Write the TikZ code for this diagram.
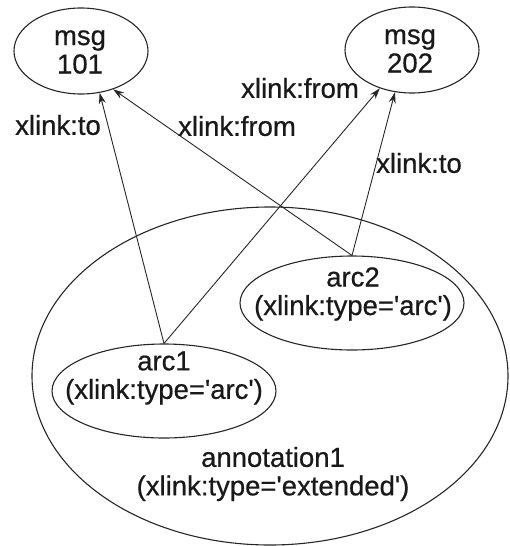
\documentclass[tikz,border=0pt]{standalone}
\usepackage{fontspec}
\setmainfont{Liberation Sans}[BoldFont=Liberation Sans,BoldFeatures={FakeBold=0.6}]
\usetikzlibrary{shapes.geometric,arrows.meta}
\newcommand{\sq}{\textquotesingle}
\begin{document}
\begin{tikzpicture}[x=1pt,y=-1pt,
  oval/.style={draw=black!85,line width=1.1pt,ellipse,inner sep=0pt},
  txt/.style={align=center,font=\fontsize{27.5}{28.5}\selectfont\bfseries,text=black!90,inner sep=0pt},
  lnk/.style={draw=black!85,line width=0.9pt,-{Stealth[length=11pt,width=7pt]}}]
\useasboundingbox (0,0) rectangle (509,546);
% ellipses
\node[oval,minimum width=134pt,minimum height=86pt] (msg101) at (81,51) {};
\node[oval,minimum width=134pt,minimum height=86pt] (msg202) at (412,50) {};
\node[oval,minimum width=476pt,minimum height=338pt] (ann) at (270,376) {};
\node[oval,minimum width=224pt,minimum height=94pt] (arc1) at (164,391) {};
\node[oval,minimum width=224pt,minimum height=94pt] (arc2) at (352,303) {};
% texts
\node[txt] (t101) at (80,52) {msg\\101};
\node[txt] (t202) at (410,51) {msg\\202};
\node[txt] (tarc1) at (164,378) {arc1\\(xlink:type=\sq arc\sq)};
\node[txt] (tarc2) at (353,294) {arc2\\(xlink:type=\sq arc\sq)};
\node[txt] (tann) at (273,474) {annotation1\\(xlink:type=\sq extended\sq)};
% connectors
\draw[lnk] (arc1.north) -- (msg101.-66);
\draw[lnk] (arc1.north) -- (msg202.-130);
\draw[lnk] (arc2.north) -- (msg101.-50);
\draw[lnk] (arc2.north) -- (msg202.-112);
% labels
\node[txt] (l1) at (58,125) {xlink:to};
\node[txt] (l2) at (300,88) {xlink:from};
\node[txt] (l3) at (237,126) {xlink:from};
\node[txt] (l4) at (419,163) {xlink:to};
\end{tikzpicture}
\end{document}
